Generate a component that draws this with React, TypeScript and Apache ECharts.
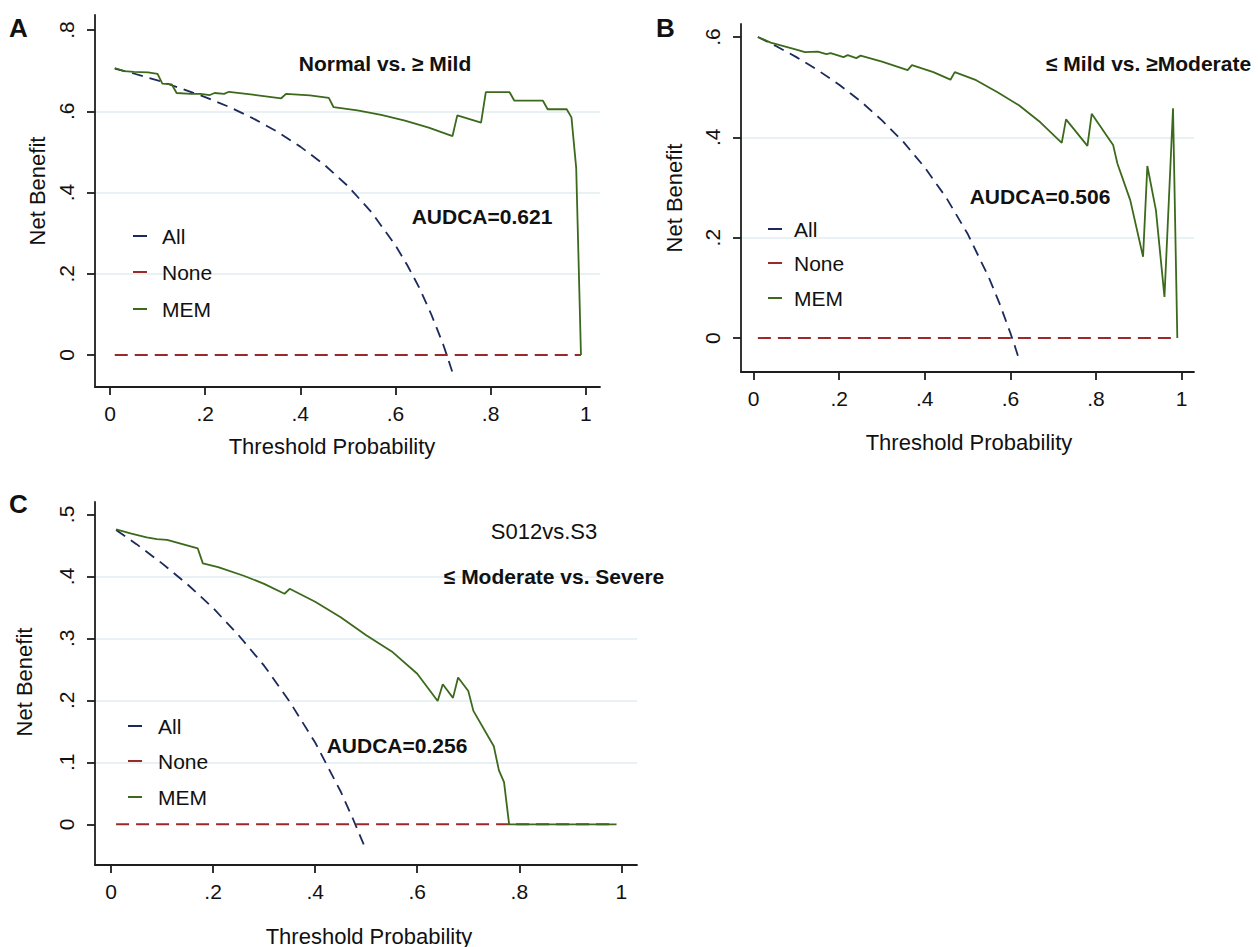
import React, { useEffect, useRef } from "react";
import * as echarts from "echarts";

// ---------- data ----------
const xTicks = [0, 0.2, 0.4, 0.6, 0.8, 1];
const yTicksA = [0, 0.2, 0.4, 0.6, 0.8];
const yTicksB = [0, 0.2, 0.4, 0.6];
const yTicksC = [0, 0.1, 0.2, 0.3, 0.4, 0.5];

const seriesNames = ["All", "None", "MEM"];

const allA = [[0.01, 0.705], [0.05, 0.693], [0.1, 0.676], [0.15, 0.656], [0.2, 0.635], [0.25, 0.611], [0.3, 0.583], [0.35, 0.551], [0.4, 0.513], [0.45, 0.469], [0.5, 0.416], [0.55, 0.351], [0.6, 0.27], [0.625, 0.221], [0.65, 0.166], [0.675, 0.101], [0.7, 0.027], [0.71, -0.007], [0.72, -0.043]];
const noneA = [[0.01, 0], [0.99, 0]];
const memA = [[0.01, 0.706], [0.03, 0.699], [0.05, 0.697], [0.08, 0.696], [0.1, 0.692], [0.11, 0.668], [0.13, 0.666], [0.14, 0.645], [0.17, 0.643], [0.19, 0.643], [0.21, 0.64], [0.22, 0.645], [0.24, 0.643], [0.25, 0.648], [0.3, 0.641], [0.36, 0.632], [0.37, 0.643], [0.42, 0.639], [0.46, 0.633], [0.47, 0.61], [0.52, 0.602], [0.57, 0.591], [0.62, 0.577], [0.67, 0.56], [0.72, 0.539], [0.73, 0.59], [0.78, 0.572], [0.79, 0.647], [0.84, 0.647], [0.85, 0.626], [0.91, 0.626], [0.92, 0.605], [0.96, 0.605], [0.97, 0.585], [0.98, 0.46], [0.99, 0.0]];

const allB = [[0.01, 0.6], [0.05, 0.583], [0.1, 0.56], [0.15, 0.534], [0.2, 0.505], [0.25, 0.472], [0.3, 0.434], [0.35, 0.391], [0.4, 0.34], [0.45, 0.28], [0.5, 0.208], [0.55, 0.12], [0.575, 0.068], [0.6, 0.01], [0.61, -0.015], [0.62, -0.042]];
const noneB = [[0.01, 0], [0.99, 0]];
const memB = [[0.01, 0.6], [0.04, 0.589], [0.07, 0.582], [0.1, 0.575], [0.12, 0.57], [0.15, 0.571], [0.17, 0.566], [0.18, 0.568], [0.21, 0.56], [0.22, 0.564], [0.24, 0.558], [0.25, 0.563], [0.3, 0.551], [0.36, 0.534], [0.37, 0.544], [0.42, 0.53], [0.46, 0.515], [0.47, 0.53], [0.52, 0.514], [0.57, 0.49], [0.62, 0.464], [0.67, 0.43], [0.72, 0.389], [0.73, 0.436], [0.78, 0.383], [0.79, 0.447], [0.84, 0.385], [0.85, 0.348], [0.88, 0.275], [0.91, 0.162], [0.92, 0.343], [0.94, 0.255], [0.96, 0.082], [0.98, 0.458], [0.99, 0.0]];

const allC = [[0.01, 0.475], [0.05, 0.452], [0.1, 0.421], [0.15, 0.387], [0.2, 0.349], [0.25, 0.305], [0.3, 0.256], [0.35, 0.198], [0.4, 0.132], [0.45, 0.053], [0.475, 0.007], [0.5, -0.042]];
const noneC = [[0.01, 0], [0.99, 0]];
const memC = [[0.01, 0.476], [0.04, 0.469], [0.07, 0.463], [0.09, 0.46], [0.11, 0.459], [0.17, 0.445], [0.18, 0.421], [0.21, 0.415], [0.26, 0.401], [0.3, 0.388], [0.34, 0.372], [0.35, 0.38], [0.4, 0.359], [0.45, 0.334], [0.5, 0.305], [0.55, 0.279], [0.6, 0.243], [0.64, 0.199], [0.65, 0.226], [0.67, 0.204], [0.68, 0.237], [0.7, 0.215], [0.71, 0.183], [0.75, 0.126], [0.76, 0.087], [0.77, 0.068], [0.78, 0.0], [0.99, 0.0]];

const titlesA = ["Normal vs. \u2265 Mild", "AUDCA=0.621"];
const titlesB = ["\u2264 Mild vs. \u2265Moderate", "AUDCA=0.506"];
const titlesC = ["S012vs.S3", "\u2264 Moderate vs. Severe", "AUDCA=0.256"];
const xTitle = "Threshold Probability";
const yTitle = "Net Benefit";

// ---------- styles ----------
const FONT = '"Liberation Sans", Arial, Helvetica, sans-serif';
const AXIS_COLOR = "#1e1e1e";
const TEXT_COLOR = "#111111";
const GRID_COLOR = "#e1ecf0";
const NAVY = "#1b2a5c";
const MAROON = "#9a2a2a";
const GREEN = "#3c6a1c";
const COLORS = [NAVY, MAROON, GREEN];

const fmt = (v: number) => {
  const r = Math.round(v * 10) / 10;
  if (r === 0) return "0";
  if (r === 1) return "1";
  return String(r).replace(/^0\./, ".").replace(/^-0\./, "-.");
};

function xAxisFor(gridIndex: number, min: number, max: number) {
  return {
    type: "value",
    gridIndex,
    min,
    max,
    axisLine: { show: true, onZero: false, lineStyle: { color: AXIS_COLOR, width: 1.8 } },
    axisTick: { show: true, length: 8, lineStyle: { color: AXIS_COLOR, width: 1.8 }, customValues: xTicks },
    axisLabel: { customValues: xTicks, formatter: fmt, fontSize: 21, fontFamily: FONT, color: TEXT_COLOR, margin: 16 },
    splitLine: { show: false },
  };
}

function yAxisFor(gridIndex: number, min: number, max: number, ticks: number[]) {
  return {
    type: "value",
    gridIndex,
    min,
    max,
    axisLine: { show: true, onZero: false, lineStyle: { color: AXIS_COLOR, width: 1.8 } },
    axisTick: { show: true, length: 8, lineStyle: { color: AXIS_COLOR, width: 1.8 }, customValues: ticks },
    axisLabel: { customValues: ticks, formatter: fmt, rotate: 90, fontSize: 21, fontFamily: FONT, color: TEXT_COLOR, margin: 18 },
    splitLine: { show: true, showMinLine: false, showMaxLine: false, lineStyle: { color: GRID_COLOR, width: 1.5 } },
  };
}

function seriesFor(idx: number, all: number[][], none: number[][], mem: number[][]) {
  return [
    {
      type: "line", name: seriesNames[0], xAxisIndex: idx, yAxisIndex: idx, data: all,
      symbol: "none", showSymbol: false, z: 3,
      lineStyle: { color: NAVY, width: 1.8, type: [11, 7] },
    },
    {
      type: "line", name: seriesNames[1], xAxisIndex: idx, yAxisIndex: idx, data: none,
      symbol: "none", showSymbol: false, z: 3,
      lineStyle: { color: MAROON, width: 2, type: [13, 7] },
    },
    {
      type: "line", name: seriesNames[2], xAxisIndex: idx, yAxisIndex: idx, data: mem,
      symbol: "none", showSymbol: false, z: 4,
      lineStyle: { color: GREEN, width: 1.8 },
    },
  ];
}

function txt(text: string, x: number, y: number, size: number, bold: boolean, align = "center", rotation = 0) {
  return {
    type: "text",
    x,
    y,
    rotation,
    z: 10,
    style: {
      text,
      fill: TEXT_COLOR,
      font: `${bold ? "bold " : ""}${size}px ${FONT}`,
      textAlign: align,
      textVerticalAlign: "middle",
      align,
      verticalAlign: "middle",
    },
  };
}

function legendFor(lineX: number, textX: number, ys: number[]) {
  const out: any[] = [];
  ys.forEach((y, i) => {
    out.push({
      type: "line",
      z: 10,
      shape: { x1: lineX, y1: y, x2: lineX + 14, y2: y },
      style: { stroke: COLORS[i], lineWidth: 2 },
    });
    out.push(txt(seriesNames[i], textX, y, 21, false, "left"));
  });
  return out;
}

export default function App() {
  const ref = useRef<HTMLDivElement>(null);

  useEffect(() => {
    if (!ref.current) return;
    const chart = echarts.init(ref.current, null, { renderer: "svg" });
    const option: any = {
      animation: false,
      backgroundColor: "#ffffff",
      textStyle: { fontFamily: FONT },
      grid: [
        { left: 95, top: 15, width: 505, height: 372, containLabel: false },
        { left: 741, top: 24, width: 453, height: 348, containLabel: false },
        { left: 95, top: 502, width: 542, height: 363, containLabel: false },
      ],
      xAxis: [
        xAxisFor(0, -0.0315, 1.03),
        xAxisFor(1, -0.0294, 1.029),
        xAxisFor(2, -0.0313, 1.0305),
      ],
      yAxis: [
        yAxisFor(0, -0.0787, 0.837, yTicksA),
        yAxisFor(1, -0.0677, 0.626, yTicksB),
        yAxisFor(2, -0.0656, 0.52, yTicksC),
      ],
      series: [
        ...seriesFor(0, allA, noneA, memA),
        ...seriesFor(1, allB, noneB, memB),
        ...seriesFor(2, allC, noneC, memC),
      ],
      graphic: [
        txt("A", 9, 28, 26, true, "left"),
        txt("B", 656, 28, 26, true, "left"),
        txt("C", 9, 504, 26, true, "left"),
        txt(titlesA[0], 385, 63, 21, true),
        txt(titlesA[1], 482, 216, 21, true),
        txt(titlesB[0], 1046, 63, 21, true, "left"),
        txt(titlesB[1], 1040, 196, 21, true),
        txt(titlesC[0], 544, 531, 22, false),
        txt(titlesC[1], 554, 576, 21, true),
        txt(titlesC[2], 397, 745, 21, true),
        txt(xTitle, 332, 446, 22, false),
        txt(xTitle, 969, 442, 22, false),
        txt(xTitle, 369, 936, 22, false),
        txt(yTitle, 37, 191, 22, false, "center", Math.PI / 2),
        txt(yTitle, 674, 198, 22, false, "center", Math.PI / 2),
        txt(yTitle, 24, 682, 22, false, "center", Math.PI / 2),
        ...legendFor(133, 162, [236, 272, 309]),
        ...legendFor(768, 794, [229, 263, 298]),
        ...legendFor(128, 158, [726, 761, 797]),
      ],
    };
    chart.setOption(option);
    return () => {
      chart.dispose();
    };
  }, []);

  return (
    <div
      ref={ref}
      style={{ position: "fixed", left: 0, top: 0, width: 1258, height: 947, background: "#ffffff" }}
    />
  );
}
